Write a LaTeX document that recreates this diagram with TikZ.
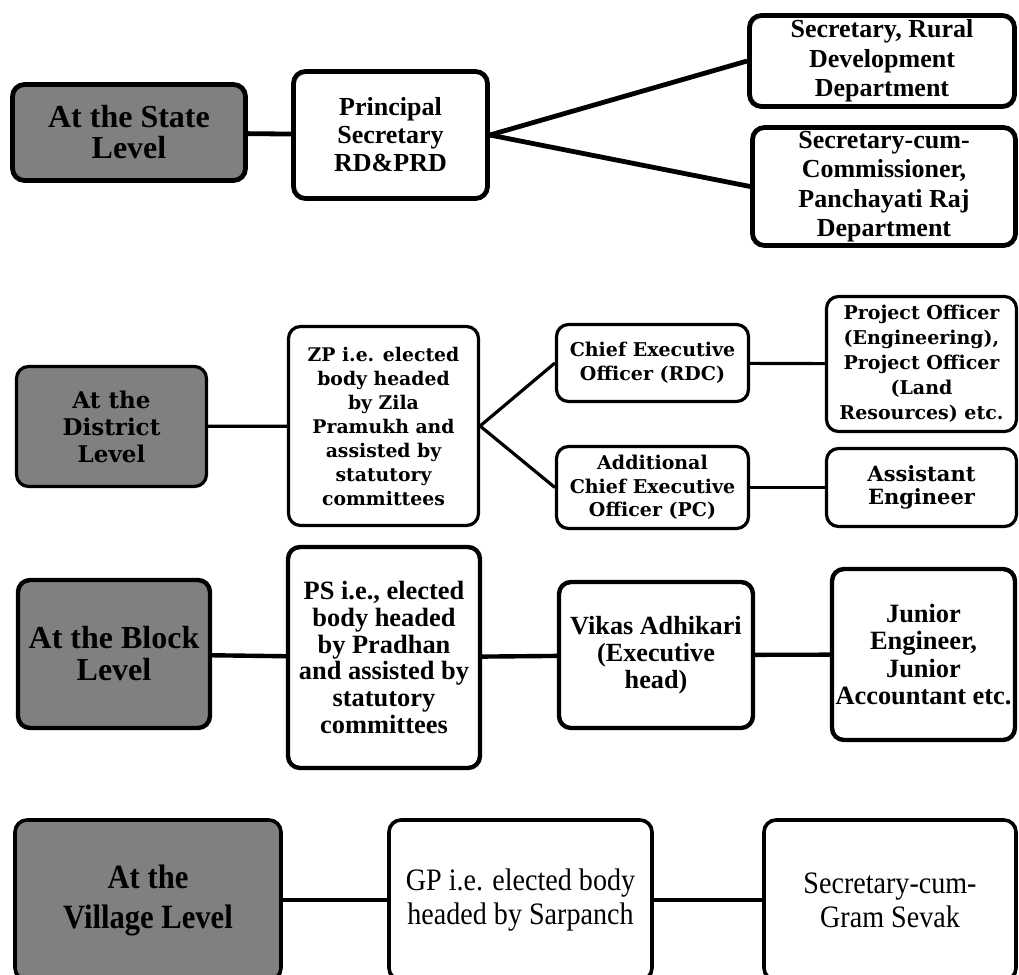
\documentclass[tikz,border=0pt]{standalone}
\usepackage{fontspec}
\setmainfont{Liberation Serif}
\newfontfamily\distfont{DejaVu Serif}
\newfontfamily\villfont[FakeStretch=0.9]{Liberation Serif}
\newcommand{\fsz}[2]{\fontsize{#1}{#2}\selectfont}
\tikzstyle{level}=[draw, rounded corners=6pt, fill=black!50, align=center, inner sep=0pt]
\tikzstyle{office}=[draw, rounded corners=6pt, fill=white, align=center, inner sep=0pt]

\begin{document}
\begin{tikzpicture}[x=0.5pt,y=-0.5pt]%
	\useasboundingbox (0,0) rectangle (1019,975);
	\clip (0,0) rectangle (1019,975);

	% state level
	\begin{scope}[line width=2.4pt]
		\draw (129,132.5) node (StateLvl) [level, minimum width=116.5pt, minimum height=48pt, font=\bfseries\fsz{16}{15.5}] {At the State\\Level};
		\draw (390.5,135) node (Principal) [office, minimum width=97pt, minimum height=63.5pt, font=\bfseries\fsz{13}{14}] {Principal\\Secretary\\RD\&PRD};
		\draw (882,61) node (SecRD) [office, minimum width=132.5pt, minimum height=45.5pt, font=\bfseries\fsz{13}{14.8}] {Secretary, Rural\\Development\\Department};
		\draw (884,186.5) node (SecPR) [office, minimum width=131.5pt, minimum height=59pt, font=\bfseries\fsz{13}{14.75}] {Secretary-cum-\\Commissioner,\\Panchayati Raj\\Department};

		\draw (StateLvl) -- (Principal);
		\draw (Principal.east) -- (SecRD.west);
		\draw (Principal.east) -- (SecPR.west);
	\end{scope}

	% district level
	\begin{scope}[line width=1.6pt]
		\draw (111.5,426.5) node (DistLvl) [level, minimum width=95pt, minimum height=60pt, font=\distfont\bfseries\fsz{11.5}{13.5}] {At the\\District\\Level};
		\draw (383.5,426) node (ZP) [office, minimum width=95pt, minimum height=99.5pt, font=\distfont\bfseries\fsz{9.4}{12}] {ZP i.e. elected\\body headed\\by Zila\\Pramukh and\\assisted by\\statutory\\committees};
		\draw (652.5,363) node (CEO) [office, minimum width=96pt, minimum height=38.5pt, font=\distfont\bfseries\fsz{9.5}{12}] {Chief Executive\\Officer (RDC)};
		\draw (652.5,487.5) node (ACEO) [office, minimum width=96pt, minimum height=41pt, font=\distfont\bfseries\fsz{9.5}{11.7}] {Additional\\Chief Executive\\Officer (PC)};
		\draw (921.5,364) node (PO) [office, minimum width=95pt, minimum height=67.5pt, font=\distfont\bfseries\fsz{9.5}{12.5}] {Project Officer\\(Engineering),\\Project Officer\\(Land\\Resources) etc.};
		\draw (921.5,487.5) node (AE) [office, minimum width=95pt, minimum height=39pt, font=\distfont\bfseries\fsz{10.5}{11.5}] {Assistant\\Engineer};

		\draw (DistLvl) -- (ZP);
		\draw (ZP.east) -- (CEO.west);
		\draw (ZP.east) -- (ACEO.west);
		\draw (CEO) -- (PO);
		\draw (ACEO) -- (AE);
	\end{scope}

	% block level
	\begin{scope}[line width=2.2pt]
		\draw (114,654) node (BlockLvl) [level, minimum width=96pt, minimum height=74pt, font=\bfseries\fsz{16}{16}] {At the Block\\Level};
		\draw (384,657.5) node (PS) [office, minimum width=96pt, minimum height=110.5pt, font=\bfseries\fsz{13.2}{13.4}] {PS i.e., elected\\body headed\\by Pradhan\\and assisted by\\statutory\\committees};
		\draw (656,655) node (Vikas) [office, minimum width=97pt, minimum height=73pt, font=\bfseries\fsz{13.1}{13.4}] {Vikas Adhikari\\(Executive\\head)};
		\draw (923.5,654.5) node (Junior) [office, minimum width=91.5pt, minimum height=85.5pt, font=\bfseries\fsz{13.2}{13.6}] {Junior\\Engineer,\\Junior\\Accountant etc.};

		\draw (BlockLvl) -- (PS);
		\draw (PS) -- (Vikas);
		\draw (Vikas) -- (Junior);
	\end{scope}

	% village level
	\begin{scope}[line width=1.8pt]
		\draw (148,900) node (VillLvl) [level, minimum width=133pt, minimum height=80pt, font=\villfont\bfseries\fsz{17}{20}] {At the\\Village Level};
		\draw (520.5,900) node (GP) [office, minimum width=131.5pt, minimum height=80pt, font=\villfont\fsz{15.6}{17}] {GP i.e. elected body\\headed by Sarpanch};
		\draw (890,900) node (SecGS) [office, minimum width=126pt, minimum height=80pt, font=\villfont\fsz{15.6}{17}] {Secretary-cum-\\Gram Sevak};

		\draw (VillLvl) -- (GP);
		\draw (GP) -- (SecGS);
	\end{scope}

\end{tikzpicture}
\end{document}
